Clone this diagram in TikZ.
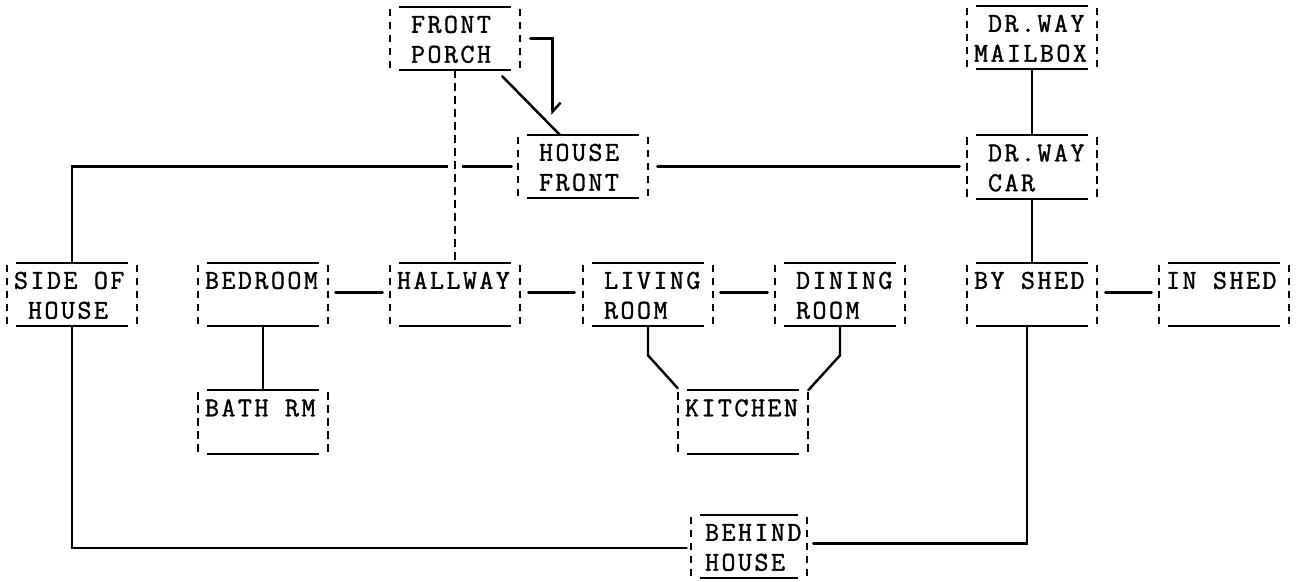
\documentclass[tikz,border=0pt]{standalone}
\usepackage{fontspec}
\newfontfamily\bxff[FakeBold=1.3, LetterSpace=9]{Latin Modern Mono}
\usetikzlibrary{calc,arrows.meta}
\newcommand{\bxsp}{\hphantom{X}}
\newcommand{\bxfont}{\bxff\fontsize{15.5}{18}\selectfont}
\newcommand{\roomtext}[2]{\vbox to 35.7pt{\offinterlineskip\vskip14.6pt\hbox to 66pt{\smash{\bxfont #1}\hss}\vskip17pt\hbox to 66pt{\smash{\bxfont #2}\hss}\vfil}}
\tikzset{
  room/.style={rectangle, inner sep=0pt, minimum width=2.6cm, minimum height=1.26cm},
  ln/.style={line width=1.4pt, line cap=round},
  boxline/.style={line width=1.3pt},
  sidedash/.style={line width=1.2pt, dash pattern=on 4.2pt off 3.2pt},
  dashln/.style={line width=1.2pt, dash pattern=on 4.2pt off 3.2pt}
}
\begin{document}
\begin{tikzpicture}[x=0.02cm,y=-0.02cm]
\useasboundingbox (0,0) rectangle (1297,581);
% nodes
\node[room] (fp)   at (455,38.5)  {\roomtext{\bxsp FRONT}{\bxsp PORCH}};
\node[room] (hf)   at (583,166.5) {\roomtext{\bxsp HOUSE}{\bxsp FRONT}};
\node[room] (mb)   at (1032,37.5) {\roomtext{\bxsp DR.WAY}{MAILBOX}};
\node[room] (car)  at (1032,167)  {\roomtext{\bxsp DR.WAY}{\bxsp CAR}};
\node[room] (side) at (72,294.5)  {\roomtext{SIDE OF}{\bxsp HOUSE}};
\node[room] (bed)  at (263,294.5) {\roomtext{BEDROOM}{}};
\node[room] (hall) at (455,294.5) {\roomtext{HALLWAY}{}};
\node[room] (liv)  at (648,294.5) {\roomtext{\bxsp LIVING}{\bxsp ROOM}};
\node[room] (din)  at (840,294.5) {\roomtext{\bxsp DINING}{\bxsp ROOM}};
\node[room] (bys)  at (1032,294.5){\roomtext{BY SHED}{}};
\node[room] (ins)  at (1224,294.5){\roomtext{IN SHED}{}};
\node[room] (bath) at (263,422)   {\roomtext{BATH RM}{}};
\node[room] (kit)  at (743,422)   {\roomtext{KITCHEN}{}};
\node[room, minimum width=2.32cm] (beh) at (749,546.5) {\roomtext{\bxsp BEHIND}{\bxsp HOUSE}};
% connectors
\draw[ln] (side.north) |- ($(hf.west)+(-6,0)$);
\draw[dashln, preaction={draw=white, solid, line width=8pt, shorten <=14pt, shorten >=14pt}] (fp.south) -- (hall.north);
\draw[ln] ($(fp.south east)+(-18,6)$) -- ($(hf.north west)+(42,0)$);
\coordinate (arrs) at ($(fp.east)+(10,0)$);
\coordinate (arre) at ($(hf.north west)+(35,-20)$);
\draw[ln, -{Straight Barb[left, length=5pt, width=9pt]}] (arrs) -| (arre);
\draw[ln] ($(hf.east)+(9,0)$) -- ($(hf.east -| car.west)+(-7,0)$);
\draw[ln] (mb.south) -- (car.north);
\draw[ln] (car.south) -- (bys.north);
\draw[ln] ($(bys.east)+(8,-2)$) -- ($(ins.west)+(-7,-2)$);
\draw[ln] ($(bed.east)+(7,-2)$) -- ($(hall.west)+(-7,-2)$);
\draw[ln] ($(hall.east)+(8,-2)$) -- ($(liv.west)+(-8,-2)$);
\draw[ln] ($(liv.east)+(7,-2)$) -- ($(din.west)+(-7,-2)$);
\draw[ln] (bed.south) -- (bath.north);
\draw[ln] (liv.south) -- ++(0,29) -- ($(kit.north west)+(0,-2)$);
\draw[ln] (din.south) -- ++(0,29) -- ($(kit.north east)+(0,0)$);
\draw[ln] (side.south) |- ($(beh.west)+(-4,1.5)$);
\draw[ln] ($(beh.east)+(6,-3)$) -| ($(bys.south)+(-5,0)$);
% box outlines: solid top/bottom, dashed sides
\foreach \n in {fp,hf,mb,car,side,bed,hall,liv,din,bys,ins,bath,kit,beh} {
  \draw[boxline] ([xshift=0.18cm]\n.north west) -- ([xshift=-0.18cm]\n.north east);
  \draw[boxline] ([xshift=0.18cm]\n.south west) -- ([xshift=-0.18cm]\n.south east);
  \draw[sidedash] ([yshift=-0.04cm]\n.north west) -- (\n.south west);
  \draw[sidedash] ([yshift=-0.04cm]\n.north east) -- (\n.south east);
}
\end{tikzpicture}
\end{document}
